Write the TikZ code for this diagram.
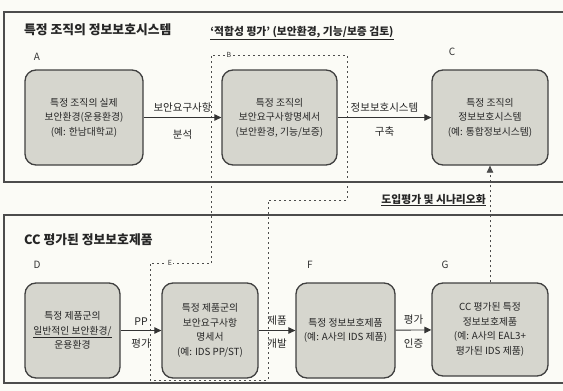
\documentclass[tikz,border=0pt]{standalone}
\usepackage{fontspec}
\setmainfont{Noto Sans CJK KR}
\usetikzlibrary{arrows.meta}
\definecolor{paper}{RGB}{251,251,246}
\definecolor{boxfill}{RGB}{214,214,206}
\begin{document}
\begin{tikzpicture}[x=1pt,y=-1pt,
  box/.style={draw=black!75, line width=1.3pt, rounded corners=11pt, fill=boxfill, align=center,
    font=\fontsize{9.8}{14.5}\selectfont, text=black!85, inner sep=0pt},
  conn/.style={draw=black!80, line width=0.9pt, -{Triangle[length=7pt,width=6.5pt]}},
  lbl/.style={font=\fontsize{10.5}{12}\selectfont, text=black!85, inner sep=1pt},
  letter/.style={font=\fontsize{10}{12}\selectfont, text=black!80, inner sep=0pt},
  ttl/.style={font=\bfseries\fontsize{12.8}{14}\selectfont, text=black!85, anchor=west, inner sep=0pt},
  ulbl/.style={font=\bfseries\fontsize{10.8}{12}\selectfont, text=black!85, inner sep=0pt},
  dashln/.style={draw=black!70, dash pattern=on 2pt off 3pt, line width=0.7pt},
  frame/.style={draw=black!70, line width=1.4pt}]
\useasboundingbox (0,0) rectangle (563,391);
\fill[paper] (0,0) rectangle (563,391);
% panels
\draw[frame] (570,12) -- (4,12) -- (4,182) -- (570,182);
\draw[frame] (570,215) -- (4,215) -- (4,383) -- (570,383);
% titles
\node[ttl] (t1) at (24,30) {특정 조직의 정보보호시스템};
\node[ttl] (t2) at (24,240) {CC 평가된 정보보호제품};
% dashed outline around B and E
\draw[dashln] (211,263) -- (211,55) -- (347,55) -- (347,200) -- (268,200) -- (268,380) -- (150,380) -- (150,263) -- cycle;
\node[letter, fill=paper, inner sep=0.5pt, font=\fontsize{7}{8}\selectfont] (lb) at (229,55) {B};
\node[letter, fill=paper, inner sep=0.5pt, font=\fontsize{7}{8}\selectfont] (le) at (170,263) {E};
% top row
\node[letter] (la) at (37,57) {A};
\node[letter] (lc) at (452,52) {C};
\node[box, minimum width=118pt, minimum height=95pt] (A) at (84,117.5) {특정 조직의 실제\\보안환경(운용환경)\\(예: 한남대학교)};
\node[box, minimum width=115pt, minimum height=95pt] (B) at (279.5,117.5) {특정 조직의\\보안요구사항명세서\\(보안환경, 기능/보증)};
\node[box, minimum width=116pt, minimum height=95pt] (C) at (490,117.5) {특정 조직의\\정보보호시스템\\(예: 통합정보시스템)};
\draw[conn] (A) -- (B) node[lbl, midway, above=4pt] {보안요구사항} node[lbl, midway, below=11pt] {분석};
\draw[conn] (B) -- (C) node[lbl, midway, above=4pt] {정보보호시스템} node[lbl, midway, below=8pt] {구축};
\node[ulbl] (fit) at (302,33) {\underline{‘적합성 평가’ (보안환경, 기능/보증 검토)}};
% bottom row
\node[letter] (ld) at (37,265) {D};
\node[letter] (lf) at (310,265) {F};
\node[letter] (lg) at (445,265) {G};
\node[box, minimum width=95pt, minimum height=95pt] (D) at (72.5,330.5) {특정 제품군의\\\underline{일반적인 보안환경/}\\운용환경};
\node[box, minimum width=96pt, minimum height=95pt] (E) at (210,330.5) {특정 제품군의\\보안요구사항\\명세서\\(예: IDS PP/ST)};
\node[box, minimum width=99pt, minimum height=95pt] (F) at (345.5,330.5) {특정 정보보호제품\\(예: A사의 IDS 제품)};
\node[box, minimum width=116pt, minimum height=93pt] (G) at (490,329.5) {CC 평가된 특정\\정보보호제품\\(예: A사의 EAL3+\\평가된 IDS 제품)};
\draw[conn] (D) -- (E) node[lbl, midway, above=4pt] {PP} node[lbl, midway, below=7pt] {평가};
\draw[conn] (E) -- (F) node[lbl, midway, above=4pt] {제품} node[lbl, midway, below=7pt] {개발};
\draw[conn] (F) -- (G) node[lbl, midway, above=4pt] {평가} node[lbl, midway, below=7pt] {인증};
% G to C
\draw[dashln, -{Triangle[length=7pt,width=6.5pt]}] (G) -- (C);
\node[ulbl, anchor=east] (intro) at (486,200) {\underline{도입평가 및 시나리오화}};
\end{tikzpicture}
\end{document}
